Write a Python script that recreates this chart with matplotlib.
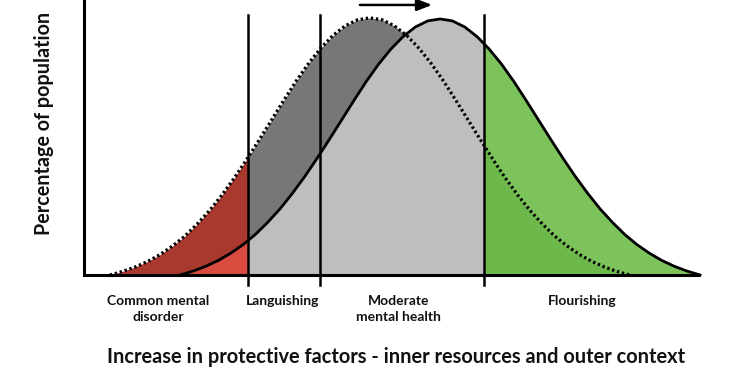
import matplotlib
matplotlib.use("Agg")
import matplotlib.pyplot as plt
from matplotlib.patches import Rectangle

# ---- data (x: protective factors scale 0-100, y: % of population) ----
before_x = [4.2, 6.4, 8.4, 10.4, 12.4, 14.4, 16.4, 18.4, 20.4, 22.4, 24.4,
            26.4, 28.4, 30.4, 32.4, 34.4, 36.4, 38.4, 40.4, 42.4, 44.4, 46.4,
            48.4, 50.4, 52.4, 54.4, 56.4, 58.4, 60.4, 62.4, 64.4, 66.4, 68.4,
            70.4, 72.4, 74.4, 76.4, 78.4, 80.4, 82.4, 84.4, 86.4, 88.6]
before_y = [0.0, 1.4, 3.0, 5.0, 7.5, 10.6, 14.2, 18.6, 23.5, 29.1, 35.3,
            42.0, 49.0, 56.2, 63.4, 70.4, 76.8, 82.4, 87.1, 90.6, 92.8, 93.5,
            92.8, 90.6, 87.1, 82.4, 76.8, 70.4, 63.4, 56.2, 49.0, 42.0, 35.3,
            29.1, 23.5, 18.6, 14.2, 10.6, 7.5, 5.0, 3.0, 1.4, 0.0]

after_x = [15.6, 17.8, 19.8, 21.8, 23.8, 25.8, 27.8, 29.8, 31.8, 33.8, 35.8,
           37.8, 39.8, 41.8, 43.8, 45.8, 47.8, 49.8, 51.8, 53.8, 55.8, 57.8,
           59.8, 61.8, 63.8, 65.8, 67.8, 69.8, 71.8, 73.8, 75.8, 77.8, 79.8,
           81.8, 83.8, 85.8, 87.8, 89.8, 91.8, 93.8, 95.8, 97.8, 100.0]
after_y = [0.0, 1.5, 3.2, 5.3, 7.9, 11.0, 14.7, 19.1, 24.0, 29.6, 35.7,
           42.3, 49.2, 56.3, 63.4, 70.3, 76.6, 82.1, 86.7, 90.2, 92.4, 93.1,
           92.4, 90.2, 86.7, 82.1, 76.6, 70.3, 63.4, 56.3, 49.2, 42.3, 35.7,
           29.6, 24.0, 19.1, 14.7, 11.0, 7.9, 5.3, 3.2, 1.5, 0.0]

boundaries = [26.6, 38.3, 64.9]
categories = ["Common mental\ndisorder", "Languishing",
              "Moderate\nmental health", "Flourishing"]

# ---- layout / style ----
label_x = [12.0, 32.3, 51.1, 80.8]
region_colors = {
    "red": ("#A9382F", "#D94B3F"),     # (dotted-only, under solid)
    "grey": ("#777777", "#BEBEBE"),
    "green": ("#7DC35B", "#6DB84B"),   # (solid-only, under both)
}
FONT = ["Lato", "DejaVu Sans"]

fig = plt.figure(figsize=(7.4, 3.7), dpi=100)
ax = fig.add_axes([84 / 740, 95 / 370, 616 / 740, 275 / 370])
ax.set_xlim(0, 100)
ax.set_ylim(0, 100)
ax.axis("off")

def clip_rect(x0, x1):
    return Rectangle((x0, -1), x1 - x0, 102, transform=ax.transData)

b0, b1, b2 = boundaries
# red region: under dotted (dark), under solid (light) on top
for xs, ys, col in [(before_x, before_y, region_colors["red"][0]),
                    (after_x, after_y, region_colors["red"][1])]:
    p = ax.fill_between(xs, 0, ys, color=col, lw=0)
    p.set_clip_path(clip_rect(0, b0))
# grey region
for xs, ys, col in [(before_x, before_y, region_colors["grey"][0]),
                    (after_x, after_y, region_colors["grey"][1])]:
    p = ax.fill_between(xs, 0, ys, color=col, lw=0)
    p.set_clip_path(clip_rect(b0, b2))
# green region: under solid (light), under dotted (darker) on top
for xs, ys, col in [(after_x, after_y, region_colors["green"][0]),
                    (before_x, before_y, region_colors["green"][1])]:
    p = ax.fill_between(xs, 0, ys, color=col, lw=0)
    p.set_clip_path(clip_rect(b2, 100))

# curves
ax.plot(after_x, after_y, color="black", lw=2.0, solid_joinstyle="round",
        clip_on=False, zorder=4)
ax.plot(before_x, before_y, color="black", lw=2.3, linestyle=(0, (0.75, 0.85)),
        dash_capstyle="butt", clip_on=False, zorder=4)

# boundaries (extend below axis as ticks)
for b in boundaries:
    ax.plot([b, b], [-3.7, 94.6], color="black", lw=1.8, clip_on=False, zorder=5)

# axes lines
ax.plot([0, 0], [0, 101], color="black", lw=2.2, clip_on=False, zorder=5)
ax.plot([0, 100], [0, 0], color="black", lw=2.2, clip_on=False, zorder=5,
        solid_capstyle="butt")

# shift arrow (from old peak to new peak)
pk_b = before_x[before_y.index(max(before_y))]
pk_a = after_x[after_y.index(max(after_y))]
ax.annotate("", xy=(pk_a - 1.3, 98.2), xytext=(pk_b - 1.6, 98.2),
            arrowprops=dict(arrowstyle="-|>,head_length=0.9,head_width=0.35",
                            color="black", lw=1.8, shrinkA=0, shrinkB=0),
            annotation_clip=False)

# category labels
for x, lab in zip(label_x, categories):
    ax.text(x, -7.2, lab, ha="center", va="top", fontsize=10,
            fontweight="bold", family=FONT, linespacing=1.4, clip_on=False,
            color="#111111")

fig.text(396 / 740, 1 - 357 / 370,
         "Increase in protective factors - inner resources and outer context",
         ha="center", va="center", fontsize=14.4, fontweight="bold",
         family=FONT, color="#111111")
fig.text(44 / 740, 1 - 123 / 370, "Percentage of population", rotation=90,
         ha="center", va="center", fontsize=14.2, fontweight="bold",
         family=FONT, color="#111111")

fig.savefig("out.png", dpi=100, facecolor="white")
